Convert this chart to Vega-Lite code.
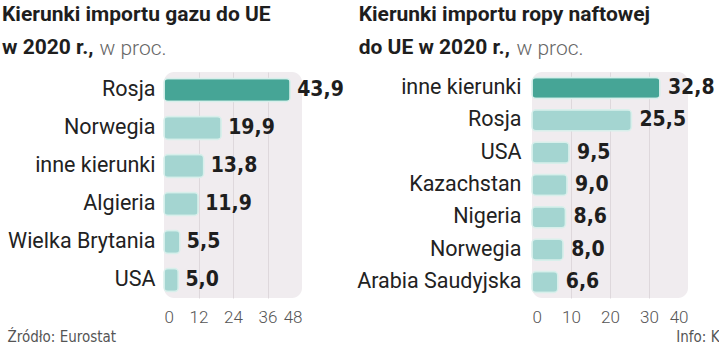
{
  "$schema": "https://vega.github.io/schema/vega-lite/v6.json",
  "padding": {"left": 2, "top": 4, "right": 0, "bottom": 0},
  "background": "white",
  "datasets": {
    "gaz": [
      {"kierunek": "Rosja", "udzial": 43.9},
      {"kierunek": "Norwegia", "udzial": 19.9},
      {"kierunek": "inne kierunki", "udzial": 13.8},
      {"kierunek": "Algieria", "udzial": 11.9},
      {"kierunek": "Wielka Brytania", "udzial": 5.5},
      {"kierunek": "USA", "udzial": 5.0}
    ],
    "ropa": [
      {"kierunek": "inne kierunki", "udzial": 32.8},
      {"kierunek": "Rosja", "udzial": 25.5},
      {"kierunek": "USA", "udzial": 9.5},
      {"kierunek": "Kazachstan", "udzial": 9.0},
      {"kierunek": "Nigeria", "udzial": 8.6},
      {"kierunek": "Norwegia", "udzial": 8.0},
      {"kierunek": "Arabia Saudyjska", "udzial": 6.6}
    ]
  },
  "config": {
    "locale": {"number": {"decimal": ",", "thousands": " ", "grouping": [3], "currency": ["", " zł"]}},
    "view": {"fill": "#f0ecef", "stroke": null, "cornerRadius": 10},
    "title": {"font": "Roboto", "fontSize": 21, "fontWeight": "bold", "color": "#1e1e1e", "anchor": "start", "frame": "bounds", "lineHeight": 33, "offset": -21},
    "axisY": {"domain": false, "ticks": false, "grid": false, "labelFont": "Roboto", "labelFontSize": 21.5, "labelColor": "#222222", "labelPadding": 9, "labelLimit": 300, "titleFont": "Roboto", "titleFontSize": 21, "titleFontWeight": 300, "titleColor": "#666666", "titleAngle": 0, "titleAlign": "left", "titleBaseline": "top", "titleY": -35},
    "axisX": {"domain": false, "ticks": false, "labelFont": "Roboto", "labelFontWeight": 300, "labelFontSize": 17, "labelColor": "#555555", "labelPadding": 11, "gridColor": {"condition": {"test": "datum.value === 0 || datum.index === 1", "value": "transparent"}, "value": "#ded8dc"}, "gridWidth": 1, "titleFont": "DejaVu Sans Condensed", "titleFontSize": 15, "titleFontWeight": "normal", "titleColor": "#555555", "titleBaseline": "middle"},
    "concat": {"spacing": 12}
  },
  "hconcat": [
    {
      "width": 138,
      "height": 226,
      "title": {"text": ["Kierunki importu gazu do UE", "w 2020 r.,"], "dx": -5},
      "data": {"name": "gaz"},
      "encoding": {
        "y": {"field": "kierunek", "type": "nominal", "sort": null, "scale": {"paddingInner": 0.395, "paddingOuter": 0.17}, "axis": {"title": "w proc.", "titleX": -65}},
        "x": {"field": "udzial", "type": "quantitative", "scale": {"domain": [0, 48], "nice": false}, "axis": {"values": [0, 12, 24, 36, 48], "title": "Źródło: Eurostat", "titleAnchor": "start", "titleAlign": "left", "titleX": -157, "titleY": 38}}
      },
      "layer": [
        {"mark": {"type": "bar", "cornerRadius": 4, "stroke": "#d8efeb", "strokeWidth": 1.5},
         "encoding": {"color": {"condition": {"test": "datum.kierunek === 'Rosja'", "value": "#46a596"}, "value": "#a4d5d1"}}},
        {"mark": {"type": "text", "align": "left", "baseline": "middle", "dx": 7, "font": "DejaVu Sans Condensed", "fontWeight": "bold", "fontSize": 21, "color": "#1e1e1e"},
         "encoding": {"text": {"field": "udzial", "type": "quantitative", "format": ".1f"}}}
      ]
    },
    {
      "width": 156,
      "height": 226,
      "title": {"text": ["Kierunki importu ropy naftowej", "do UE w 2020 r.,"], "dx": 2},
      "data": {"name": "ropa"},
      "encoding": {
        "y": {"field": "kierunek", "type": "nominal", "sort": null, "scale": {"paddingInner": 0.35, "paddingOuter": 0.17}, "axis": {"labelPadding": 11, "title": "w proc.", "titleX": -16}},
        "x": {"field": "udzial", "type": "quantitative", "scale": {"domain": [0, 40], "nice": false}, "axis": {"values": [0, 10, 20, 30, 40], "title": "Info: K", "titleAnchor": "end", "titleAlign": "right", "titleX": 187, "titleY": 38}}
      },
      "layer": [
        {"mark": {"type": "bar", "cornerRadius": 4, "stroke": "#d8efeb", "strokeWidth": 1.5},
         "encoding": {"color": {"condition": {"test": "datum.kierunek === 'inne kierunki'", "value": "#46a596"}, "value": "#a4d5d1"}}},
        {"mark": {"type": "text", "align": "left", "baseline": "middle", "dx": 8, "font": "DejaVu Sans Condensed", "fontWeight": "bold", "fontSize": 21, "color": "#1e1e1e"},
         "encoding": {"text": {"field": "udzial", "type": "quantitative", "format": ".1f"}}}
      ]
    }
  ]
}
